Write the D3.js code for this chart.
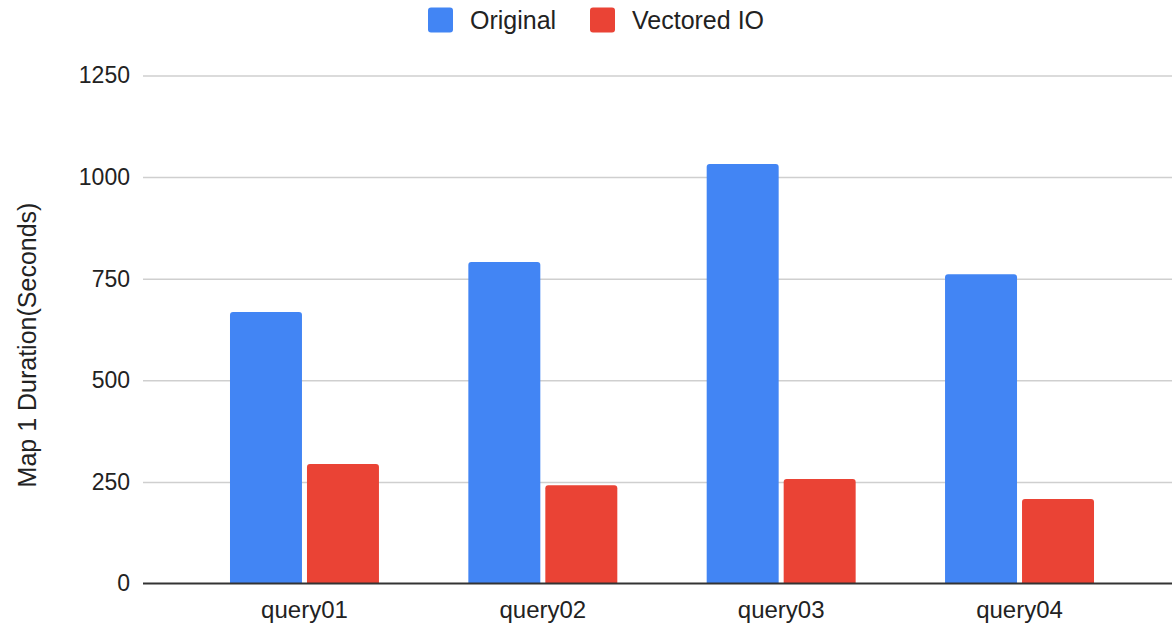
<!DOCTYPE html>
<html>
<head>
<meta charset="utf-8">
<script src="https://cdn.jsdelivr.net/npm/d3@7"></script>
<style>
  html, body { margin: 0; padding: 0; background: #fff; }
  svg { display: block; font-family: "Liberation Sans", Arial, sans-serif; }
</style>
</head>
<body>
<svg id="chart" width="1172" height="626"></svg>
<script>
const categories = ["query01", "query02", "query03", "query04"];
const seriesNames = ["Original", "Vectored IO"];
const original = [668, 791, 1032, 761];
const vectoredIO = [294, 242, 257, 208];
const yTicks = [0, 250, 500, 750, 1000, 1250];
const colors = ["#4285F4", "#EA4335"];
const yTitle = "Map 1 Duration(Seconds)";

const FONT = "'Liberation Sans', Arial, sans-serif";
const svg = d3.select("#chart");
const plot = { left: 143, right: 1172, top: 75.5, bottom: 583.5 };

const y = d3.scaleLinear().domain([0, 1250]).range([plot.bottom, plot.top]);
const x = d3.scaleBand().domain(categories).range([185.3, 1138.7])
  .paddingInner(0.375).paddingOuter(0.1875);
const xs = d3.scaleBand().domain(seriesNames).range([0, x.bandwidth()]).paddingInner(0.065);

// gridlines + y tick labels
const yAxis = d3.axisLeft(y).tickValues(yTicks).tickFormat(d3.format("d"))
  .tickSize(-(plot.right - plot.left)).tickPadding(13);
const gy = svg.append("g").attr("transform", `translate(${plot.left},0)`).call(yAxis);
gy.select(".domain").remove();
gy.selectAll(".tick line").attr("stroke", "#cfcfcf").attr("stroke-width", 1.5);
gy.selectAll(".tick text").attr("font-size", 23).attr("fill", "#222").attr("font-family", FONT);
gy.selectAll(".tick").filter(d => d === 0).select("line").attr("stroke", "none");

// bars
const data = categories.map((c, i) => ({ cat: c, vals: [original[i], vectoredIO[i]] }));
const r = 3;
function barPath(x0, y0, w, h) {
  const rr = Math.min(r, h);
  return `M${x0},${y0 + h}V${y0 + rr}Q${x0},${y0} ${x0 + rr},${y0}H${x0 + w - rr}Q${x0 + w},${y0} ${x0 + w},${y0 + rr}V${y0 + h}Z`;
}
const groups = svg.append("g").selectAll("g").data(data).join("g")
  .attr("transform", d => `translate(${x(d.cat)},0)`);
groups.selectAll("path").data(d => d.vals.map((v, j) => ({ v, s: seriesNames[j], j })))
  .join("path")
  .attr("d", d => barPath(xs(d.s), y(d.v), xs.bandwidth(), y(0) - y(d.v)))
  .attr("fill", d => colors[d.j]);

// baseline
svg.append("line").attr("x1", plot.left).attr("x2", plot.right)
  .attr("y1", y(0)).attr("y2", y(0)).attr("stroke", "#333").attr("stroke-width", 2);

// x axis labels
const xAxis = d3.axisBottom(x).tickSize(0).tickPadding(17);
const gx = svg.append("g").attr("transform", `translate(0,${y(0)})`).call(xAxis);
gx.select(".domain").remove();
gx.selectAll(".tick text").attr("font-size", 24).attr("fill", "#222").attr("font-family", FONT);

// y title
svg.append("text")
  .attr("transform", `translate(36,345) rotate(-90)`)
  .attr("text-anchor", "middle").attr("font-size", 25).attr("fill", "#222")
  .attr("font-family", FONT)
  .text(yTitle);

// legend
const legendItems = [
  { name: seriesNames[0], color: colors[0], x: 428 },
  { name: seriesNames[1], color: colors[1], x: 590 }
];
const lg = svg.append("g").selectAll("g").data(legendItems).join("g")
  .attr("transform", d => `translate(${d.x},7.5)`);
lg.append("rect").attr("width", 25).attr("height", 25).attr("rx", 3).attr("fill", d => d.color);
lg.append("text").attr("x", 42).attr("y", 21).attr("font-size", 25).attr("fill", "#222")
  .attr("font-family", FONT)
  .text(d => d.name);
</script>
</body>
</html>
